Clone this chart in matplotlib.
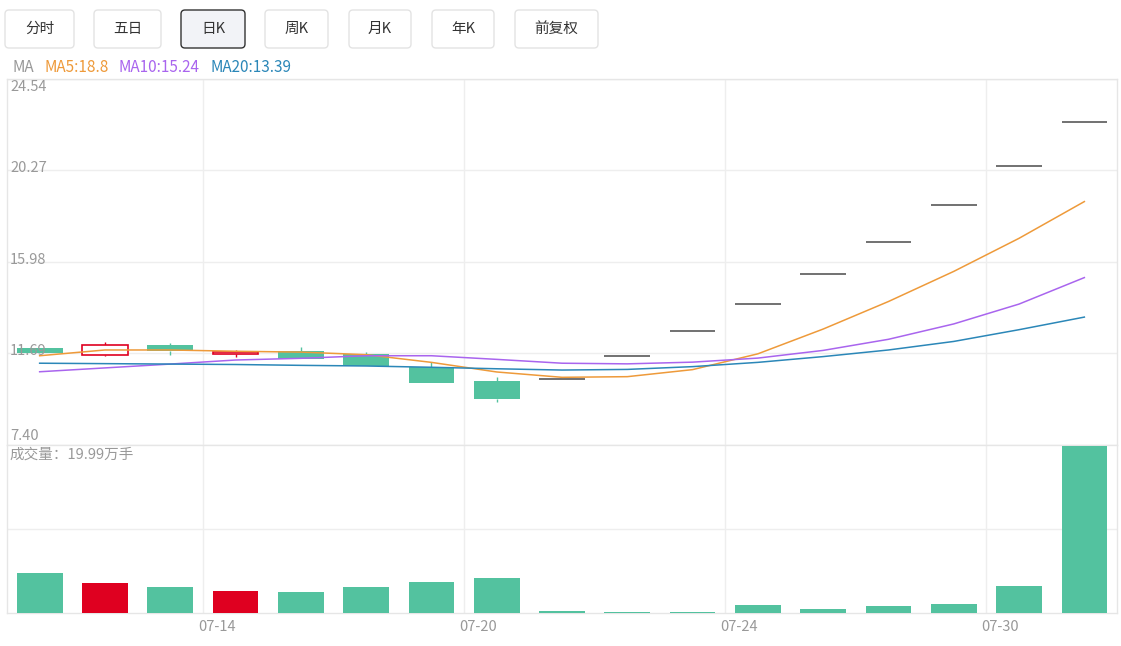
import numpy as np
import matplotlib
matplotlib.use('Agg')
import matplotlib.pyplot as plt
import matplotlib.transforms as mtransforms
from matplotlib.patches import FancyBboxPatch

plt.rcParams['font.family'] = ['Noto Sans CJK SC', 'DejaVu Sans']

# daily K data (price in yuan, volume in 万手)
dates = ['07-09', '07-10', '07-13', '07-14', '07-15', '07-16', '07-17', '07-20', '07-21',
         '07-22', '07-23', '07-24', '07-27', '07-28', '07-29', '07-30', '07-31']
opens = [11.93, 11.61, 12.08, 11.65, 11.80, 11.66, 11.07, 10.40, 10.51,
         11.56, 12.72, 13.99, 15.39, 16.93, 18.62, 20.48, 22.53]
closes = [11.69, 12.08, 11.80, 11.76, 11.41, 11.11, 10.29, 9.55, 10.51,
          11.56, 12.72, 13.99, 15.39, 16.93, 18.62, 20.48, 22.53]
highs = [11.93, 12.21, 12.19, 11.85, 12.00, 11.77, 11.27, 10.57, 10.51,
         11.56, 12.72, 13.99, 15.39, 16.93, 18.62, 20.48, 22.53]
lows = [11.69, 11.57, 11.61, 11.53, 11.41, 11.11, 10.29, 9.43, 10.51,
        11.56, 12.72, 13.99, 15.39, 16.93, 18.62, 20.48, 22.53]
volumes = [4.75, 3.57, 3.09, 2.65, 2.53, 3.09, 3.68, 4.16, 0.27,
           0.12, 0.16, 0.99, 0.51, 0.78, 1.10, 3.28, 19.99]
ma5 = [11.58, 11.85, 11.85, 11.79, 11.75, 11.63, 11.27, 10.82, 10.57,
       10.60, 10.93, 11.67, 12.83, 14.12, 15.53, 17.08, 18.8]
ma10 = [10.83, 11.01, 11.19, 11.38, 11.46, 11.58, 11.58, 11.41, 11.23,
        11.20, 11.28, 11.47, 11.83, 12.35, 13.07, 14.00, 15.24]
ma20 = [11.23, 11.21, 11.19, 11.17, 11.13, 11.10, 11.04, 10.97, 10.91,
        10.94, 11.07, 11.27, 11.54, 11.85, 12.25, 12.80, 13.39]
price_ticks = [7.40, 11.69, 15.98, 20.27, 24.54]
label_idx = [3, 7, 11, 15]
buttons = ['分时', '五日', '日K', '周K', '月K', '年K', '前复权']
active_button = '日K'

RED = '#DF0020'
GREEN = '#53C29F'
FLAT = '#666666'
GRID = '#EEEEEE'
TXT = '#999999'
MA_COLORS = {'MA5': '#EE9A3A', 'MA10': '#A965EE', 'MA20': '#2B87B8'}

W, H = 1121, 646
fig = plt.figure(figsize=(W / 100, H / 100), dpi=100)


def px_rect(l, t, r, b):
    return [l / W, 1 - b / H, (r - l) / W, (b - t) / H]


# overlay for the button bar / legend (pixel coordinates)
ui = fig.add_axes([0, 0, 1, 1], zorder=-1)
ui.set_xlim(0, W)
ui.set_ylim(H, 0)
ui.axis('off')

ax = fig.add_axes(px_rect(7, 79, 1117, 445))
axv = fig.add_axes(px_rect(7, 445, 1117, 613), sharex=ax)

x = np.arange(len(dates))
o = np.array(opens)
c = np.array(closes)
hi = np.array(highs)
lo = np.array(lows)
up = c > o
down = c < o
flat = c == o
bw = 0.7

# wicks (only outside the body)
body_top = np.maximum(o, c)
body_bot = np.minimum(o, c)
wick_col = np.where(up, RED, GREEN)
sel = ~flat
ax.vlines(x[sel], body_top[sel], hi[sel], colors=wick_col[sel], lw=1, zorder=2)
ax.vlines(x[sel], lo[sel], body_bot[sel], colors=wick_col[sel], lw=1, zorder=2)

# bodies
ax.bar(x[down], (o - c)[down], bw, bottom=c[down], color=GREEN, lw=0, zorder=3)
ax.bar(x[up], (c - o)[up], bw, bottom=o[up], facecolor='white', edgecolor=RED,
       lw=1.2, zorder=3)
ax.hlines(c[flat], x[flat] - bw / 2, x[flat] + bw / 2, colors=FLAT, lw=1.3, zorder=3)

# moving averages
for name, vals in [('MA5', ma5), ('MA10', ma10), ('MA20', ma20)]:
    ax.plot(x, vals, color=MA_COLORS[name], lw=1.1, zorder=4)

# volume bars
vcol = np.where(up, RED, GREEN)
axv.bar(x, volumes, bw, color=vcol, lw=0, zorder=3)

bounds = [i - 0.5 for i in label_idx]
for a in (ax, axv):
    a.set_xlim(-0.5, len(dates) - 0.5)
    a.set_xticks(bounds)
    a.grid(True, color=GRID, lw=1, zorder=0)
    a.tick_params(length=0)
    for s in a.spines.values():
        s.set_color('#E6E6E6')
        s.set_linewidth(1)

ax.set_ylim(price_ticks[0], price_ticks[-1])
ax.set_yticks(price_ticks)
ax.tick_params(labelleft=False, labelbottom=False)
ax.spines['bottom'].set_visible(False)

axv.set_ylim(0, 20.05)
axv.set_yticks([10])
axv.tick_params(labelleft=False)
axv.set_xticks(bounds, [dates[i] for i in label_idx], color=TXT, fontsize=10.5)
axv.tick_params(axis='x', pad=5)
shift = mtransforms.ScaledTranslation(14 / 100, 0, fig.dpi_scale_trans)
for lbl in axv.get_xticklabels():
    lbl.set_transform(lbl.get_transform() + shift)

# price labels inside the plot
ytrans = mtransforms.blended_transform_factory(ax.transAxes, ax.transData)
for i, v in enumerate(price_ticks):
    if i == len(price_ticks) - 1:
        va, dy = 'top', -1
    elif i == 0:
        va, dy = 'bottom', 2
    else:
        va, dy = 'center', 2
    off = mtransforms.ScaledTranslation(3 / 100, dy / 100, fig.dpi_scale_trans)
    ax.text(0, v, f'{v:.2f}', color=TXT, fontsize=10.5, va=va, ha='left',
            transform=ytrans + off, zorder=5)

axv.text(0.002, 0.985, f'成交量：{volumes[-1]}万手', color=TXT, fontsize=10.5,
         va='top', ha='left', transform=axv.transAxes)

# button bar
btn_x = [(5, 74), (94, 161), (181, 245), (265, 328), (349, 411), (432, 494), (515, 598)]
for name, (l, r) in zip(buttons, btn_x):
    active = name == active_button
    ui.add_patch(FancyBboxPatch((l, 10), r - l, 38,
                                boxstyle='round,pad=0,rounding_size=4',
                                facecolor='#F2F3F7' if active else 'white',
                                edgecolor='#333333' if active else '#E3E3E3',
                                lw=1))
    ui.text((l + r) / 2, 29, name, color='#333333', fontsize=10.5,
            ha='center', va='center')

# MA legend
ui.text(12, 68, 'MA', color=TXT, fontsize=11, va='center')
leg_x = {'MA5': 44, 'MA10': 119, 'MA20': 210}
for name, vals in [('MA5', ma5), ('MA10', ma10), ('MA20', ma20)]:
    ui.text(leg_x[name], 68, f'{name}:{vals[-1]}', color=MA_COLORS[name],
            fontsize=11, va='center')

fig.savefig('out.png', dpi=100)
